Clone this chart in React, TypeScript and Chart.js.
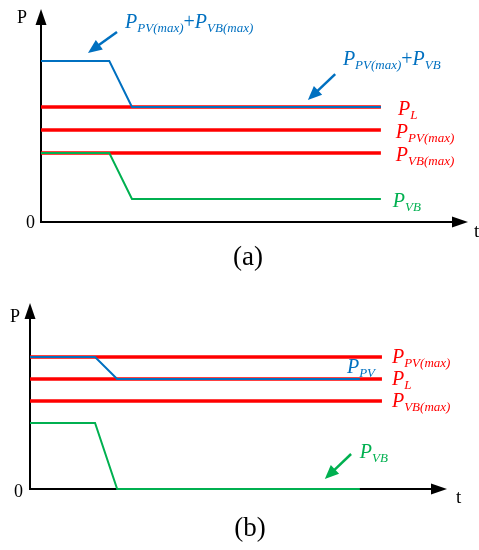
import React, { useEffect, useRef } from "react";
import { Chart, registerables } from "chart.js";

Chart.register(...registerables);

// ---------- Panel (a) data ----------
const A_TIME = [0, 1.6, 2.13, 7.96];
const A_SUM = [7, 7, 5, 5]; // P_PV(max)+P_VB
const A_VB = [3, 3, 1, 1]; // P_VB
const A_LEVEL_NAMES = ["P_L", "P_PV(max)", "P_VB(max)"];
const A_LEVEL_VALUES = [5, 4, 3];
const A_LEVEL_END = 7.96;
const A_X_MAX = 10;
const A_Y_MAX = 9.26;

// ---------- Panel (b) data ----------
const B_TIME = [0, 1.56, 2.09, 7.91];
const B_PV = [6, 6, 5, 5]; // P_PV
const B_VB = [3, 3, 0, 0]; // P_VB
const B_LEVEL_NAMES = ["P_PV(max)", "P_L", "P_VB(max)"];
const B_LEVEL_VALUES = [6, 5, 4];
const B_LEVEL_END = 8.44;
const B_X_MAX = 10;
const B_Y_MAX = 8.45;

const RED = "#ff0000";
const BLUE = "#0070c0";
const GREEN = "#00b050";
const SERIF = '"Liberation Serif", "Times New Roman", serif';

type Part = [string, "m" | "s" | "n"];

function toParts(name: string): Part[] {
  // "P_PV(max)+P_VB" -> parts
  const out: Part[] = [];
  name.split("+").forEach((seg, i) => {
    if (i > 0) out.push(["+", "n"]);
    const [main, sub] = seg.split("_");
    out.push([main, "m"]);
    if (sub) out.push([sub, "s"]);
  });
  return out;
}

function drawRich(ctx: CanvasRenderingContext2D, x: number, y: number, parts: Part[], color: string, size: number) {
  let cx = x;
  ctx.fillStyle = color;
  ctx.textBaseline = "alphabetic";
  ctx.textAlign = "left";
  for (const [t, k] of parts) {
    let dy = 0;
    if (k === "m") ctx.font = `italic ${size}px ${SERIF}`;
    else if (k === "n") ctx.font = `${size}px ${SERIF}`;
    else {
      ctx.font = `italic ${Math.round(size * 0.66)}px ${SERIF}`;
      dy = size * 0.22;
    }
    ctx.fillText(t, cx, y + dy);
    cx += ctx.measureText(t).width;
  }
}

function arrowHead(ctx: CanvasRenderingContext2D, x0: number, y0: number, x1: number, y1: number, len: number, half: number, color: string) {
  const a = Math.atan2(y1 - y0, x1 - x0);
  const bx = x1 - len * Math.cos(a);
  const by = y1 - len * Math.sin(a);
  ctx.fillStyle = color;
  ctx.beginPath();
  ctx.moveTo(x1, y1);
  ctx.lineTo(bx + half * Math.sin(a), by - half * Math.cos(a));
  ctx.lineTo(bx - half * Math.sin(a), by + half * Math.cos(a));
  ctx.closePath();
  ctx.fill();
  return [bx, by];
}

function arrow(ctx: CanvasRenderingContext2D, x0: number, y0: number, x1: number, y1: number, color: string, width: number, len: number, half: number) {
  const a = Math.atan2(y1 - y0, x1 - x0);
  const bx = x1 - (len - 1) * Math.cos(a);
  const by = y1 - (len - 1) * Math.sin(a);
  ctx.strokeStyle = color;
  ctx.lineWidth = width;
  ctx.lineCap = "butt";
  ctx.beginPath();
  ctx.moveTo(x0, y0);
  ctx.lineTo(bx, by);
  ctx.stroke();
  arrowHead(ctx, x0, y0, x1, y1, len, half, color);
}

type Label = { text: string; color: string; x: number; y: number; dy?: number };
type Pointer = { color: string; from: [number, number]; to: [number, number] };
type Deco = {
  labels: Label[];
  pointers: Pointer[];
  caption: string;
  captionX: number;
  captionY: number;
  pDy: number;
  pDx: number;
  zeroDx: number;
  zeroDy: number;
  tDx: number;
  tDy: number;
};

const decoPlugin = {
  id: "deco",
  beforeDatasetsDraw(chart: any, _a: any, o: Deco) {
    const ctx: CanvasRenderingContext2D = chart.ctx;
    const xs = chart.scales.x;
    const ys = chart.scales.y;
    const ox = xs.getPixelForValue(0);
    const oy = ys.getPixelForValue(0);
    const tipY = ys.top;
    const tipX = xs.right;
    ctx.save();
    // y axis
    ctx.strokeStyle = "#000";
    ctx.lineWidth = 2;
    ctx.beginPath();
    ctx.moveTo(ox, oy + 1);
    ctx.lineTo(ox, tipY + 12);
    ctx.stroke();
    arrowHead(ctx, ox, oy, ox, tipY, 16, 5.5, "#000");
    // x axis
    ctx.beginPath();
    ctx.moveTo(ox - 1, oy);
    ctx.lineTo(tipX - 12, oy);
    ctx.stroke();
    arrowHead(ctx, ox, oy, tipX, oy, 16, 5.5, "#000");
    // axis texts
    ctx.fillStyle = "#000";
    ctx.font = `18px ${SERIF}`;
    ctx.textAlign = "right";
    ctx.textBaseline = "alphabetic";
    ctx.fillText("P", ox + o.pDx, tipY + o.pDy);
    ctx.textBaseline = "middle";
    ctx.fillText("0", ox + o.zeroDx, oy + o.zeroDy);
    ctx.textAlign = "left";
    ctx.textBaseline = "alphabetic";
    ctx.font = `19px ${SERIF}`;
    ctx.fillText("t", tipX + o.tDx, oy + o.tDy);
    ctx.restore();
  },
  afterDatasetsDraw(chart: any, _a: any, o: Deco) {
    const ctx: CanvasRenderingContext2D = chart.ctx;
    const xs = chart.scales.x;
    const ys = chart.scales.y;
    ctx.save();
    for (const l of o.labels) {
      drawRich(ctx, xs.getPixelForValue(l.x), ys.getPixelForValue(l.y) + (l.dy || 0), toParts(l.text), l.color, 20);
    }
    for (const p of o.pointers) {
      arrow(
        ctx,
        xs.getPixelForValue(p.from[0]),
        ys.getPixelForValue(p.from[1]),
        xs.getPixelForValue(p.to[0]),
        ys.getPixelForValue(p.to[1]),
        p.color,
        2.5,
        14,
        6
      );
    }
    ctx.fillStyle = "#000";
    ctx.font = `27px ${SERIF}`;
    ctx.textAlign = "center";
    ctx.textBaseline = "middle";
    ctx.fillText(o.caption, o.captionX, o.captionY);
    ctx.restore();
  },
};

type PanelProps = {
  time: number[];
  blue: number[];
  green: number[];
  levelNames: string[];
  levelValues: number[];
  levelEnd: number;
  xMax: number;
  yMax: number;
  padding: { left: number; right: number; top: number; bottom: number };
  deco: Deco;
};

function Panel(props: PanelProps) {
  const ref = useRef<HTMLCanvasElement>(null);
  useEffect(() => {
    if (!ref.current) return;
    const pts = (ys: number[]) => props.time.map((t, i) => ({ x: t, y: ys[i] }));
    const datasets: any[] = [
      {
        label: "blue",
        data: pts(props.blue),
        borderColor: BLUE,
        borderWidth: 2,
        order: 0,
      },
      {
        label: "green",
        data: pts(props.green),
        borderColor: GREEN,
        borderWidth: 2,
        order: 0,
      },
      ...props.levelNames.map((n, i) => ({
        label: n,
        data: [
          { x: 0, y: props.levelValues[i] },
          { x: props.levelEnd, y: props.levelValues[i] },
        ],
        borderColor: RED,
        borderWidth: 3.5,
        order: 1,
      })),
    ];
    const chart = new Chart(ref.current, {
      type: "line",
      data: { datasets },
      options: {
        animation: false,
        responsive: false,
        devicePixelRatio: 1,
        layout: { padding: props.padding },
        elements: { point: { radius: 0 }, line: { tension: 0, borderCapStyle: "butt" } },
        datasets: { line: { clip: false } as any },
        scales: {
          x: { type: "linear", min: 0, max: props.xMax, display: false },
          y: { type: "linear", min: 0, max: props.yMax, display: false },
        },
        plugins: {
          legend: { display: false },
          tooltip: { enabled: false },
          deco: props.deco,
        } as any,
      },
      plugins: [decoPlugin as any],
    });
    return () => chart.destroy();
  }, []);
  return <canvas ref={ref} width={479} height={275} style={{ display: "block" }} />;
}

export default function App() {
  return (
    <div style={{ position: "absolute", left: 0, top: 0, width: 479, height: 550, background: "#fff" }}>
      <Panel
        time={A_TIME}
        blue={A_SUM}
        green={A_VB}
        levelNames={A_LEVEL_NAMES}
        levelValues={A_LEVEL_VALUES}
        levelEnd={A_LEVEL_END}
        xMax={A_X_MAX}
        yMax={A_Y_MAX}
        padding={{ left: 41, right: 11, top: 9, bottom: 53 }}
        deco={{
          labels: [
            { text: "P_PV(max)+P_VB(max)", color: BLUE, x: 1.97, y: 8.43 },
            { text: "P_PV(max)+P_VB", color: BLUE, x: 7.07, y: 6.83 },
            { text: "P_L", color: RED, x: 8.36, y: 5, dy: 8 },
            { text: "P_PV(max)", color: RED, x: 8.31, y: 4, dy: 8 },
            { text: "P_VB(max)", color: RED, x: 8.31, y: 3, dy: 8 },
            { text: "P_VB", color: GREEN, x: 8.24, y: 1, dy: 8 },
          ],
          pointers: [
            { color: BLUE, from: [1.78, 8.26], to: [1.1, 7.35] },
            { color: BLUE, from: [6.89, 6.43], to: [6.25, 5.3] },
          ],
          caption: "(a)",
          captionX: 248,
          captionY: 258,
          pDx: -14,
          pDy: 14,
          zeroDx: -6,
          zeroDy: 1,
          tDx: 6,
          tDy: 15,
        }}
      />
      <Panel
        time={B_TIME}
        blue={B_PV}
        green={B_VB}
        levelNames={B_LEVEL_NAMES}
        levelValues={B_LEVEL_VALUES}
        levelEnd={B_LEVEL_END}
        xMax={B_X_MAX}
        yMax={B_Y_MAX}
        padding={{ left: 30, right: 32, top: 28, bottom: 61 }}
        deco={{
          labels: [
            { text: "P_PV(max)", color: RED, x: 8.68, y: 6, dy: 6 },
            { text: "P_PV", color: BLUE, x: 7.6, y: 5.27 },
            { text: "P_L", color: RED, x: 8.68, y: 5, dy: 6 },
            { text: "P_VB(max)", color: RED, x: 8.68, y: 4, dy: 6 },
            { text: "P_VB", color: GREEN, x: 7.91, y: 1.41 },
          ],
          pointers: [{ color: GREEN, from: [7.7, 1.59], to: [7.07, 0.45] }],
          caption: "(b)",
          captionX: 250,
          captionY: 254,
          pDx: -10,
          pDy: 19,
          zeroDx: -7,
          zeroDy: 3,
          tDx: 9,
          tDy: 14,
        }}
      />
    </div>
  );
}
